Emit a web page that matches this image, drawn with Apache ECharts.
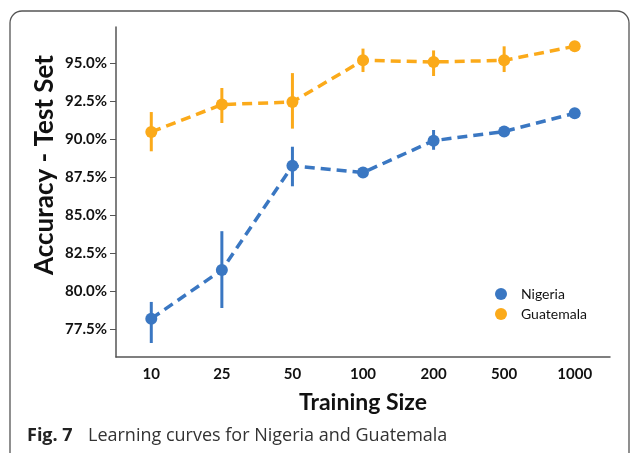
<!DOCTYPE html>
<html>
<head>
<meta charset="utf-8">
<script src="https://cdn.jsdelivr.net/npm/echarts@6/dist/echarts.min.js"></script>
<style>html,body{margin:0;padding:0;background:#fff}#c{width:630px;height:453px}</style>
</head>
<body>
<div id="c"></div>
<script>
var categories = ['10', '25', '50', '100', '200', '500', '1000'];
var nigeria = [78.2, 81.4, 88.25, 87.8, 89.9, 90.5, 91.7];
var nigeriaLow = [76.6, 78.9, 86.9, 87.65, 89.3, 90.25, 91.35];
var nigeriaHigh = [79.3, 83.95, 89.5, 87.95, 90.6, 90.85, 92.05];
var guatemala = [90.47, 92.27, 92.44, 95.18, 95.07, 95.18, 96.1];
var guatemalaLow = [89.2, 91.06, 90.69, 94.41, 94.15, 94.41, 95.95];
var guatemalaHigh = [91.78, 93.36, 94.34, 95.95, 95.83, 96.1, 96.25];
var yTicks = [77.5, 80, 82.5, 85, 87.5, 90, 92.5, 95];

var BLUE = '#3a77c2';
var ORANGE = '#fbaa1a';
var FONT = 'Lato';

function errData(lo, hi) {
  return categories.map(function (c, i) { return [i, lo[i], hi[i]]; });
}
function errSeries(lo, hi, color) {
  return {
    type: 'custom',
    data: errData(lo, hi),
    z: 3,
    silent: true,
    renderItem: function (params, api) {
      var a = api.coord([api.value(0), api.value(1)]);
      var b = api.coord([api.value(0), api.value(2)]);
      return {
        type: 'line',
        shape: { x1: a[0], y1: a[1], x2: b[0], y2: b[1] },
        style: { stroke: color, lineWidth: 3 }
      };
    }
  };
}
function lineSeries(name, data, color) {
  return {
    name: name,
    type: 'line',
    data: data,
    z: 4,
    symbol: 'circle',
    symbolSize: 12,
    itemStyle: { color: color },
    lineStyle: { color: color, width: 3.5, type: [10, 6] }
  };
}

var chart = echarts.init(document.getElementById('c'), null, { renderer: 'canvas' });
chart.setOption({
  animation: false,
  backgroundColor: '#fff',
  grid: { left: 116, top: 27, right: 20, bottom: 96 },
  legend: {
    data: ['Nigeria', 'Guatemala'],
    orient: 'vertical',
    left: 490,
    top: 282,
    icon: 'circle',
    itemWidth: 12,
    itemHeight: 12,
    itemGap: 6,
    textStyle: { fontFamily: FONT, fontSize: 14, color: '#111', padding: [0, 0, 0, 9] }
  },
  xAxis: {
    type: 'category',
    data: categories,
    boundaryGap: true,
    name: 'Training Size',
    nameLocation: 'middle',
    nameGap: 34,
    nameTextStyle: { fontFamily: FONT, fontWeight: 'bold', fontSize: 23, color: '#111' },
    axisLine: { lineStyle: { color: '#555', width: 1.5 } },
    axisTick: { alignWithLabel: true, length: 5, lineStyle: { color: '#555' } },
    axisLabel: { fontFamily: FONT, fontWeight: 'bold', fontSize: 15, color: '#111', margin: 10 },
    splitLine: { show: false }
  },
  yAxis: {
    type: 'value',
    min: 75.68,
    max: 97.37,
    axisLine: { show: true, lineStyle: { color: '#555', width: 1.5 } },
    axisTick: { show: true, length: 6, customValues: yTicks, lineStyle: { color: '#555' } },
    axisLabel: {
      customValues: yTicks,
      fontFamily: FONT, fontWeight: 'bold', fontSize: 15, color: '#111', margin: 9,
      formatter: function (v) { return v.toFixed(1) + '%'; }
    },
    splitLine: { show: false }
  },
  series: [
    errSeries(nigeriaLow, nigeriaHigh, BLUE),
    errSeries(guatemalaLow, guatemalaHigh, ORANGE),
    lineSeries('Nigeria', nigeria, BLUE),
    lineSeries('Guatemala', guatemala, ORANGE)
  ],
  graphic: [
    {
      type: 'rect',
      shape: { x: 10, y: 11, width: 619, height: 470, r: 12 },
      style: { fill: 'none', stroke: '#555', lineWidth: 1.3 },
      silent: true
    },
    {
      type: 'text', x: 45, y: 165, rotation: Math.PI / 2,
      style: { text: 'Accuracy - Test Set', font: 'bold 26px Lato', fill: '#111', align: 'center', verticalAlign: 'middle' }
    },
    {
      type: 'text', left: 27, top: 427,
      style: { text: 'Fig. 7', font: 'bold 18px "Open Sans"', fill: '#222' }
    },
    {
      type: 'text', left: 88, top: 427,
      style: { text: 'Learning curves for Nigeria and Guatemala', font: '18px "Open Sans"', fill: '#333' }
    }
  ]
});
</script>
</body>
</html>
